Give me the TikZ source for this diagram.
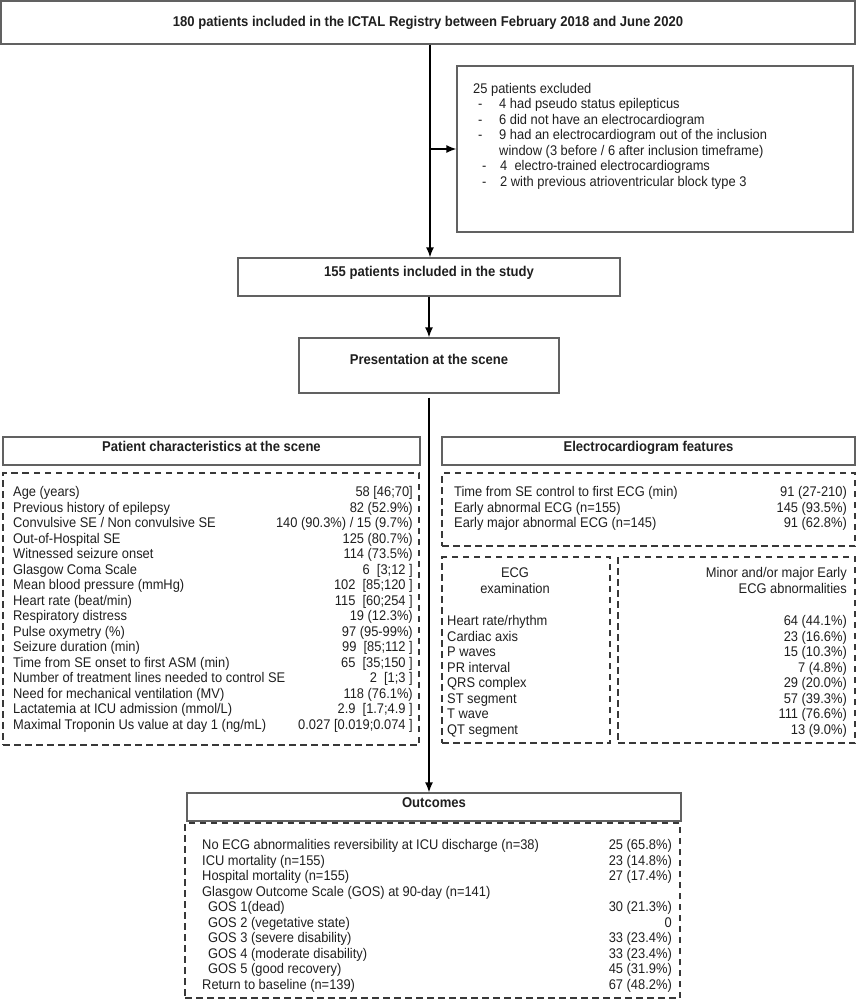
\documentclass[tikz,border=0pt]{standalone}
\usepackage{fontspec}
\setmainfont{Liberation Sans}[FakeStretch=0.92]
\usetikzlibrary{arrows.meta,calc}
\newcommand\trow[6]{%
  \node[anchor=base west] (#1a) at (#2,#4) {#5};
  \node[anchor=base east] (#1b) at (#3,#4) {#6};}
\begin{document}
\begin{tikzpicture}[x=1pt,y=-1pt,
  every node/.style={font=\fontsize{14}{15.5}\selectfont, text=black!88, inner sep=0pt},
  sbox/.style={draw=black!62, line width=1.3pt, rectangle},
  dbox/.style={draw=black!78, line width=1.3pt, dash pattern=on 6.5pt off 4.5pt, rectangle},
  arr/.style={draw=black, line width=1.5pt, -{Latex[length=10pt,width=8pt]}},
  ttl/.style={font=\fontsize{14.2}{15.5}\selectfont\bfseries, text height=10pt, text depth=#1},
  ttl/.default=2pt]
\useasboundingbox (0,0) rectangle (857,1000);

% top boxes
\node[sbox, ttl, minimum width=854pt, minimum height=43pt] (top) at (428,22.5)
  {180 patients included in the ICTAL Registry between February 2018 and June 2020};
\node[sbox, minimum width=396pt, minimum height=166pt] (excl) at (655,149) {};
\node[anchor=base west] (ex0) at (473,93.5) {25 patients excluded};
\node[anchor=base west] (ex1d) at (478,109) {-};
\node[anchor=base west] (ex1) at (499,109) {4 had pseudo status epilepticus};
\node[anchor=base west] (ex2d) at (478,124.5) {-};
\node[anchor=base west] (ex2) at (499,124.5) {6 did not have an electrocardiogram};
\node[anchor=base west] (ex3d) at (478,140) {-};
\node[anchor=base west] (ex3) at (499,140) {9 had an electrocardiogram out of the inclusion};
\node[anchor=base west] (ex3b) at (499,155.5) {window (3 before / 6 after inclusion timeframe)};
\node[anchor=base west] (ex4d) at (482,171) {-};
\node[anchor=base west] (ex4) at (500,171) {4~~electro-trained electrocardiograms};
\node[anchor=base west] (ex5d) at (482,186.5) {-};
\node[anchor=base west] (ex5) at (500,186.5) {2 with previous atrioventricular block type 3};

\node[sbox, ttl=11pt, minimum width=382pt, minimum height=38pt] (inc) at (429,277)
  {155 patients included in the study};
\node[sbox, ttl=12pt, minimum width=260pt, minimum height=55pt] (pres) at (429,365.5)
  {Presentation at the scene};

% headers
\node[sbox, ttl=9pt, minimum width=417pt, minimum height=28pt] (lhead) at (211.5,451)
  {Patient characteristics at the scene};
\node[sbox, ttl=9pt, minimum width=413pt, minimum height=28pt] (rhead) at (648.5,451)
  {Electrocardiogram features};

% left dashed box
\node[dbox, minimum width=416pt, minimum height=272pt] (ldash) at (211,609) {};
\trow{l1}{13}{413}{496.5}{Age (years)}{58 [46;70]}
\trow{l2}{13}{413}{512}{Previous history of epilepsy}{82 (52.9\%)}
\trow{l3}{13}{413}{527.5}{Convulsive SE / Non convulsive SE}{140 (90.3\%) / 15 (9.7\%)}
\trow{l4}{13}{413}{543}{Out-of-Hospital SE}{125 (80.7\%)}
\trow{l5}{13}{413}{558.5}{Witnessed seizure onset}{114 (73.5\%)}
\trow{l6}{13}{413}{574}{Glasgow Coma Scale}{6~~[3;12~]}
\trow{l7}{13}{413}{589.5}{Mean blood pressure (mmHg)}{102~~[85;120~]}
\trow{l8}{13}{413}{605}{Heart rate (beat/min)}{115~~[60;254~]}
\trow{l9}{13}{413}{620.5}{Respiratory distress}{19 (12.3\%)}
\trow{l10}{13}{413}{636}{Pulse oxymetry (\%)}{97 (95-99\%)}
\trow{l11}{13}{413}{651.5}{Seizure duration (min)}{99~~[85;112~]}
\trow{l12}{13}{413}{667}{Time from SE onset to first ASM (min)}{65~~[35;150~]}
\trow{l13}{13}{413}{682.5}{Number of treatment lines needed to control SE}{2~~[1;3~]}
\trow{l14}{13}{413}{698}{Need for mechanical ventilation (MV)}{118 (76.1\%)}
\trow{l15}{13}{413}{713.5}{Lactatemia at ICU admission (mmol/L)}{2.9~~[1.7;4.9~]}
\trow{l16}{13}{413}{729}{Maximal Troponin Us value at day 1 (ng/mL)}{0.027 [0.019;0.074~]}

% right dashed boxes
\node[dbox, minimum width=413pt, minimum height=73pt] (rdash) at (648.5,509.5) {};
\trow{r1}{454}{847}{496.5}{Time from SE control to first ECG (min)}{91 (27-210)}
\trow{r2}{454}{847}{512}{Early abnormal ECG (n=155)}{145 (93.5\%)}
\trow{r3}{454}{847}{527.5}{Early major abnormal ECG (n=145)}{91 (62.8\%)}

\node[dbox, minimum width=168pt, minimum height=186pt] (ecgex) at (526,650) {};
\node[dbox, minimum width=237pt, minimum height=186pt] (minor) at (736.5,650) {};
\node[anchor=base] (ecg1) at (515,577.5) {ECG};
\node[anchor=base] (ecg2) at (515,593) {examination};
\node[anchor=base east] (mn1) at (847,577.5) {Minor and/or major Early};
\node[anchor=base east] (mn2) at (847,593) {ECG abnormalities};
\trow{e1}{447}{847}{625.5}{Heart rate/rhythm}{64 (44.1\%)}
\trow{e2}{447}{847}{641}{Cardiac axis}{23 (16.6\%)}
\trow{e3}{447}{847}{656.5}{P waves}{15 (10.3\%)}
\trow{e4}{447}{847}{672}{PR interval}{7 (4.8\%)}
\trow{e5}{447}{847}{687.5}{QRS complex}{29 (20.0\%)}
\trow{e6}{447}{847}{703}{ST segment}{57 (39.3\%)}
\trow{e7}{447}{847}{718.5}{T wave}{111 (76.6\%)}
\trow{e8}{447}{847}{734}{QT segment}{13 (9.0\%)}

% outcomes
\node[sbox, ttl=9pt, minimum width=494pt, minimum height=28pt] (out) at (434,807)
  {Outcomes};
\node[dbox, minimum width=495pt, minimum height=175pt] (outd) at (432.5,910.5) {};
\trow{o1}{202}{672}{849.5}{No ECG abnormalities reversibility at ICU discharge (n=38)}{25 (65.8\%)}
\trow{o2}{202}{672}{865}{ICU mortality (n=155)}{23 (14.8\%)}
\trow{o3}{202}{672}{880.5}{Hospital mortality (n=155)}{27 (17.4\%)}
\node[anchor=base west] (o4a) at (202,896) {Glasgow Outcome Scale (GOS) at 90-day (n=141)};
\trow{o5}{208}{672}{911.5}{GOS 1(dead)}{30 (21.3\%)}
\trow{o6}{208}{672}{927}{GOS 2 (vegetative state)}{0}
\trow{o7}{208}{672}{942.5}{GOS 3 (severe disability)}{33 (23.4\%)}
\trow{o8}{208}{672}{958}{GOS 4 (moderate disability)}{33 (23.4\%)}
\trow{o9}{208}{672}{973.5}{GOS 5 (good recovery)}{45 (31.9\%)}
\trow{o10}{202}{672}{989}{Return to baseline (n=139)}{67 (48.2\%)}

% connectors
\coordinate (split) at ($(top.south)+(2,0)$);
\draw[arr] (split) -- (split |- inc.north);
\draw[arr] (split |- excl.west) -- (excl.west);
\draw[arr] (inc.south) -- (pres.north);
\draw[arr] ([yshift=-4pt]pres.south) -- (pres.south |- out.north);
\end{tikzpicture}
\end{document}
